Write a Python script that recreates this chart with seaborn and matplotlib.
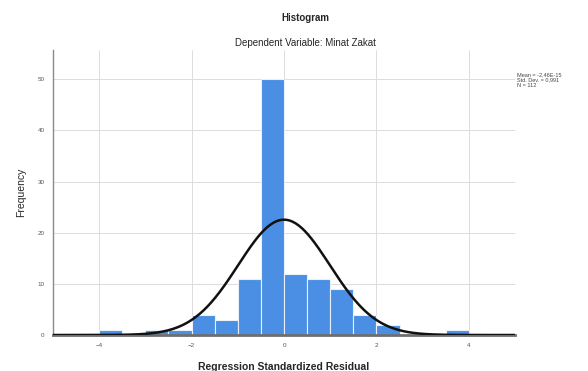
"""SPSS style residual histogram with fitted normal curve."""

import matplotlib
matplotlib.use('Agg')
import matplotlib.pyplot as plt
import seaborn as sns
import numpy as np
import pandas as pd

# bin edges and counts
bin_edges = [-4.0, -3.5, -3.0, -2.5, -2.0, -1.5, -1.0, -0.5, 0.0, 0.5, 1.0, 1.5, 2.0, 2.5, 3.0, 3.5, 4.0]
bin_counts = [1, 0, 1, 1, 4, 3, 11, 50, 12, 11, 9, 4, 2, 0, 0, 1]

# summary stats shown in the legend box
res_mean = 0.0
res_std = 0.991
res_n = 112

x_ticks = [-4, -2, 0, 2, 4]
y_ticks = [0, 10, 20, 30, 40, 50]

sns.set_style('white')
plt.rcParams['font.family'] = ['Liberation Sans', 'DejaVu Sans']

fig = plt.figure(figsize=(5.88, 3.71), dpi=100)
ax = fig.add_axes([0.090, 0.097, 0.786, 0.768])

centers = [(a + b) / 2 for a, b in zip(bin_edges[:-1], bin_edges[1:])]
df = pd.DataFrame({'residual': centers, 'count': bin_counts})
sns.histplot(data=df, x='residual', weights='count', bins=bin_edges,
             color='#4a8fe3', edgecolor='#e8f0fb', linewidth=0.8, alpha=1,
             ax=ax, zorder=2)

# fitted normal curve scaled to counts per bin
bw = bin_edges[1] - bin_edges[0]
xs = np.linspace(-5, 5, 300)
ys = res_n * bw / (res_std * np.sqrt(2 * np.pi)) * np.exp(-0.5 * ((xs - res_mean) / res_std) ** 2)
sns.lineplot(x=xs, y=ys, color='#111111', linewidth=1.8, ax=ax, zorder=3)

ax.set_xlim(-5, 5)
ax.set_ylim(0, 55.7)
ax.set_xticks(x_ticks)
ax.set_yticks(y_ticks)
ax.tick_params(axis='both', labelsize=4.5, colors='#555555', length=0, pad=6)
ax.grid(True, color='#dcdcdc', linewidth=0.7, zorder=0)
ax.set_axisbelow(True)

for s in ['top', 'right']:
    ax.spines[s].set_visible(False)
ax.spines['left'].set_color('#8a8a8a')
ax.spines['left'].set_linewidth(1.0)
ax.spines['bottom'].set_color('#6e6e6e')
ax.spines['bottom'].set_linewidth(2.0)

ax.set_xlabel('Regression Standardized Residual', fontsize=7.5, fontweight='bold', labelpad=10)
ax.set_ylabel('Frequency', fontsize=7.5, labelpad=8)

fig.text(0.52, 0.952, 'Histogram', ha='center', va='center', fontsize=7, fontweight='bold')
fig.text(0.52, 0.883, 'Dependent Variable: Minat Zakat', ha='center', va='center', fontsize=7)

fig.text(0.880, 0.785, 'Mean = -2,46E-15\nStd. Dev. = 0,991\nN = 112',
         ha='left', va='center', fontsize=4, color='#444444', linespacing=1.1)

plt.savefig('out.png', dpi=100)
plt.close()
